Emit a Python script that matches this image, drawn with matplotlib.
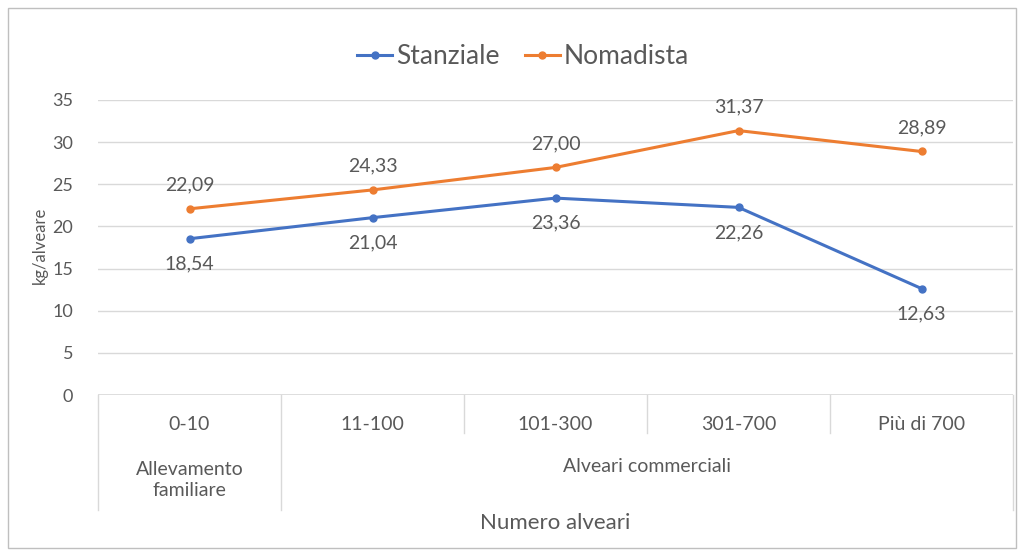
import matplotlib.pyplot as plt
from matplotlib.patches import Rectangle

plt.rcParams['font.family'] = ['Lato', 'DejaVu Sans']

categorie = ['0-10', '11-100', '101-300', '301-700', 'Più di 700']
stanziale = [18.54, 21.04, 23.36, 22.26, 12.63]
nomadista = [22.09, 24.33, 27.00, 31.37, 28.89]
gruppi = ['Allevamento\nfamiliare', 'Alveari commerciali']

blu = '#4472C4'
arancio = '#ED7D31'
grigio = '#595959'
linea = '#D9D9D9'

fig = plt.figure(figsize=(10.24, 5.54), dpi=100)
ax = fig.add_axes([98 / 1024, 1 - 395 / 554, (1013 - 98) / 1024, 295 / 554])

x = list(range(len(categorie)))
ax.plot(x, stanziale, color=blu, lw=2.2, marker='o', ms=5, label='Stanziale')
ax.plot(x, nomadista, color=arancio, lw=2.2, marker='o', ms=5, label='Nomadista')

def fmt(v):
    return f'{v:.2f}'.replace('.', ',')

for xi, v in zip(x, stanziale):
    ax.annotate(fmt(v), (xi, v), xytext=(0, -18), textcoords='offset points',
                ha='center', va='center', fontsize=14, color=grigio)
for xi, v in zip(x, nomadista):
    ax.annotate(fmt(v), (xi, v), xytext=(0, 17), textcoords='offset points',
                ha='center', va='center', fontsize=14, color=grigio)

ax.set_xlim(-0.5, 4.5)
ax.set_ylim(0, 35)
ax.set_yticks(range(0, 36, 5))
ax.set_xticks([])
ax.tick_params(axis='y', length=0, labelsize=13, labelcolor=grigio, pad=18)
ax.grid(axis='y', color=linea, lw=1)
ax.set_axisbelow(True)
for s in ax.spines.values():
    s.set_visible(False)
ax.axhline(0, color=linea, lw=1.2)

# tabella delle categorie sotto l'asse
tr = ax.get_xaxis_transform()
def ypx(p):
    return (395 - p) / 295
for xb in [-0.5, 0.5, 4.5]:
    ax.plot([xb, xb], [0, ypx(510)], color=linea, lw=1, transform=tr, clip_on=False)
for xb in [1.5, 2.5, 3.5]:
    ax.plot([xb, xb], [0, ypx(433)], color=linea, lw=1, transform=tr, clip_on=False)
for xi, c in zip(x, categorie):
    ax.text(xi, ypx(424), c, transform=tr, ha='center', va='center', fontsize=14, color=grigio)
ax.text(0, ypx(480), gruppi[0], transform=tr, ha='center', va='center', fontsize=14,
        color=grigio, linespacing=1.25)
ax.text(2.5, ypx(467), gruppi[1], transform=tr, ha='center', va='center', fontsize=14, color=grigio)
ax.text(2, ypx(523), 'Numero alveari', transform=tr, ha='center', va='center', fontsize=16, color=grigio)

fig.text(40 / 1024, 1 - 245 / 554, 'kg/alveare', rotation=90, ha='center', va='center',
         fontsize=12, color=grigio)

fig.legend(loc='center', bbox_to_anchor=(523 / 1024, 1 - 57 / 554), ncol=2, frameon=False,
           fontsize=19, labelcolor=grigio, handlelength=1.33, columnspacing=0.95, handletextpad=0.15)

fig.patches.append(Rectangle((8 / 1024, 6 / 554), 1008 / 1024, 540 / 554, transform=fig.transFigure,
                             fill=False, edgecolor='#BFBFBF', lw=1))

fig.savefig('out.png', dpi=100)
